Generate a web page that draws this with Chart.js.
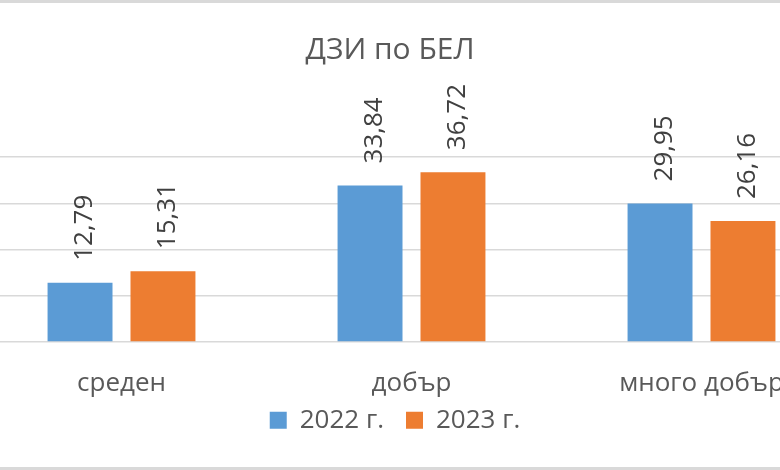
<!DOCTYPE html>
<html>
<head>
<meta charset="utf-8">
<script src="https://cdn.jsdelivr.net/npm/chart.js@4.4.0/dist/chart.umd.min.js"></script>
<style>
  html, body { margin: 0; padding: 0; background: #fff; }
  #wrap { position: relative; width: 780px; height: 470px; overflow: hidden; }
  #chart { position: absolute; left: -70px; top: 0; }
  .edge { position: absolute; left: 0; width: 780px; background: #d9d9d9; }
</style>
</head>
<body>
<div id="wrap">
  <canvas id="chart" width="920" height="470"></canvas>
  <div class="edge" style="top:0;height:3px"></div>
  <div class="edge" style="top:467px;height:3px"></div>
</div>
<script>
const categories = ['среден', 'добър', 'много добър'];
const seriesNames = ['2022 г.', '2023 г.'];
const values2022 = [12.79, 33.84, 29.95];
const values2023 = [15.31, 36.72, 26.16];
const yMax = 40;
const yStep = 10;

const fontFamily = '"Open Sans", "Noto Sans", sans-serif';
const textGray = '#595959';

// rotated value labels above each bar
const barLabels = {
  id: 'barLabels',
  afterDatasetsDraw(chart) {
    const ctx = chart.ctx;
    const size = 26;
    ctx.save();
    ctx.font = size + 'px ' + fontFamily;
    ctx.fillStyle = '#404040';
    ctx.textAlign = 'left';
    ctx.textBaseline = 'alphabetic';
    chart.data.datasets.forEach((ds, i) => {
      chart.getDatasetMeta(i).data.forEach((bar, j) => {
        const txt = ds.data[j].toFixed(2).replace('.', ',');
        ctx.save();
        ctx.translate(bar.x + 2.5 + size * 0.357, bar.y - 22);
        ctx.rotate(-Math.PI / 2);
        ctx.fillText(txt, 0, 0);
        ctx.restore();
      });
    });
    ctx.restore();
  }
};

// nudge the legend a bit up/right to sit like the original
const legendNudge = {
  id: 'legendNudge',
  afterLayout(chart) {
    const lg = chart.legend;
    lg.top -= 14; lg.bottom -= 14;
    lg.left += 5; lg.right += 5;
  }
};

const ctx = document.getElementById('chart').getContext('2d');
new Chart(ctx, {
  type: 'bar',
  data: {
    labels: categories,
    datasets: [
      { label: seriesNames[0], data: values2022, backgroundColor: '#5B9BD5',
        categoryPercentage: 0.572, barPercentage: 0.783 },
      { label: seriesNames[1], data: values2023, backgroundColor: '#ED7D31',
        categoryPercentage: 0.572, barPercentage: 0.783 }
    ]
  },
  options: {
    responsive: false,
    animation: false,
    layout: { padding: { left: 3.5, right: 3.5, top: 0, bottom: 12.8 } },
    plugins: {
      title: {
        display: true,
        text: 'ДЗИ по БЕЛ',
        color: textGray,
        font: { family: fontFamily, size: 30, weight: 'normal' },
        padding: { top: 32, bottom: 89 }
      },
      legend: {
        position: 'bottom',
        labels: {
          boxWidth: 17, boxHeight: 17, padding: 22,
          color: textGray,
          font: { family: fontFamily, size: 26 }
        }
      },
      tooltip: { enabled: false }
    },
    scales: {
      x: {
        grid: { display: false, drawTicks: false },
        border: { display: false },
        ticks: { color: textGray, font: { family: fontFamily, size: 26 }, padding: 26 },
        afterFit(scale) { scale.height = 57.2; }
      },
      y: {
        min: 0, max: yMax,
        ticks: { display: false, stepSize: yStep },
        grid: { color: '#d9d9d9', lineWidth: 1.5, drawTicks: false },
        border: { display: false },
        afterFit(scale) { scale.width = 43; }
      }
    }
  },
  plugins: [barLabels, legendNudge]
});
</script>
</body>
</html>
